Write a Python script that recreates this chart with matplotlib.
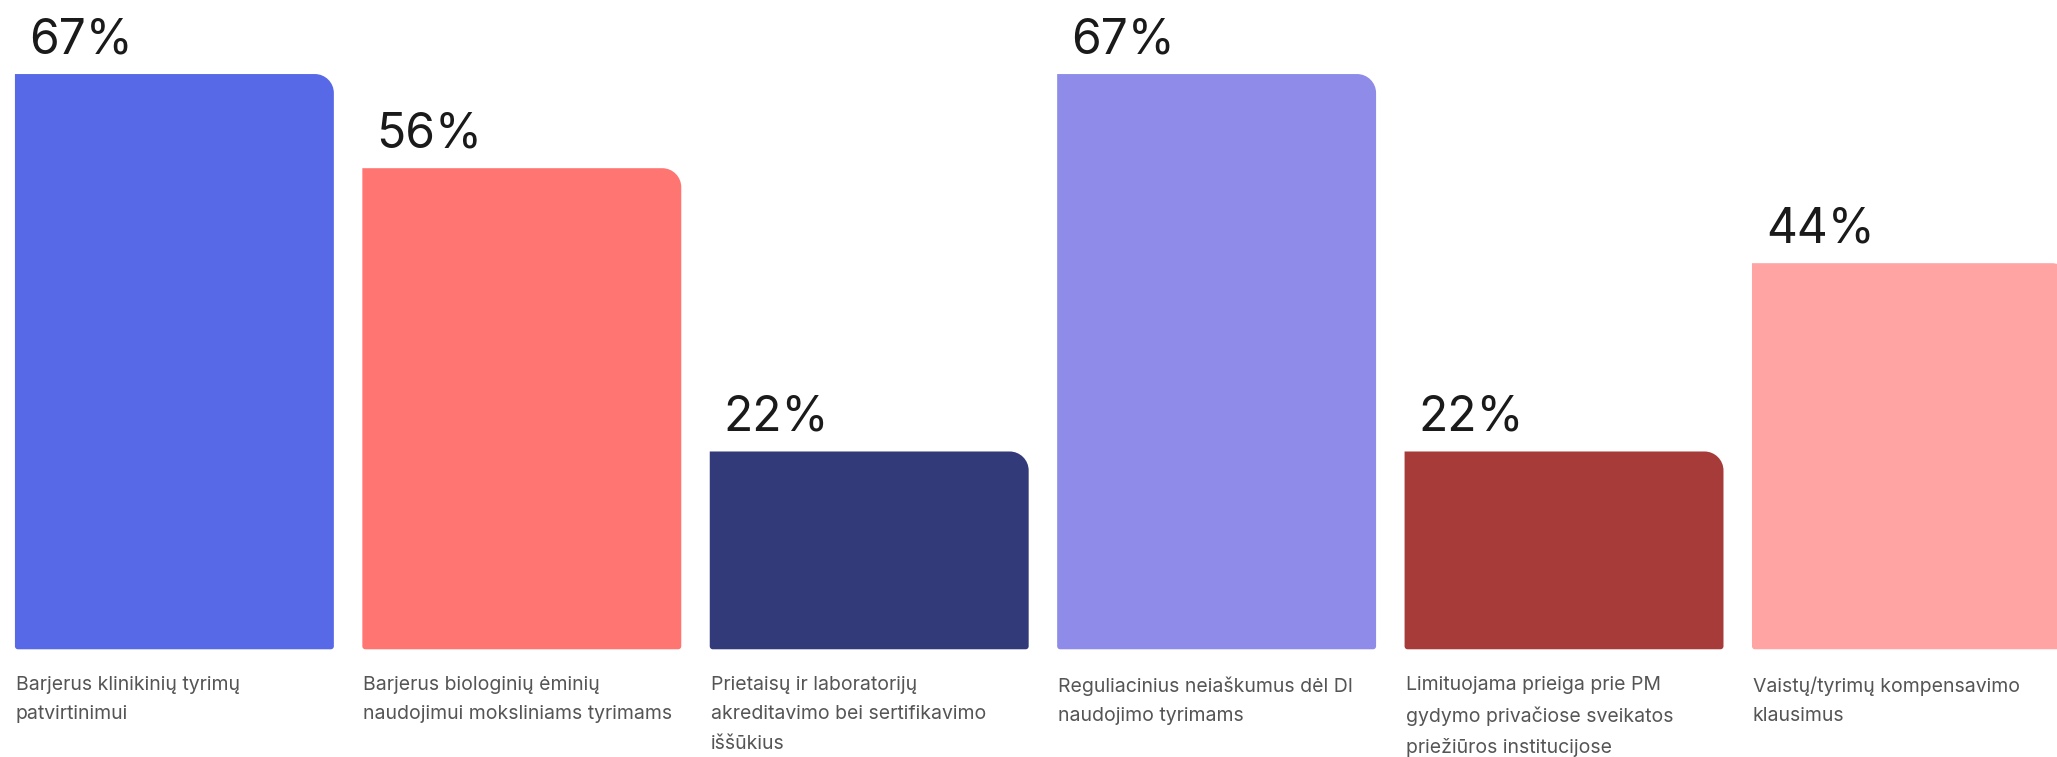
import numpy as np
import matplotlib
matplotlib.use("Agg")
import matplotlib.pyplot as plt
from matplotlib.path import Path
from matplotlib.patches import PathPatch
from matplotlib.transforms import offset_copy

plt.rcParams['font.family'] = ['Inter', 'DejaVu Sans']

# data
labels = [
    "Barjerus klinikinių tyrimų\npatvirtinimui",
    "Barjerus biologinių ėminių\nnaudojimui moksliniams tyrimams",
    "Prietaisų ir laboratorijų\nakreditavimo bei sertifikavimo\niššūkius",
    "Reguliacinius neiaškumus dėl DI\nnaudojimo tyrimams",
    "Limituojama prieiga prie PM\ngydymo privačiose sveikatos\npriežiūros institucijose",
    "Vaistų/tyrimų kompensavimo\nklausimus",
]
values = [66.7, 55.6, 22.2, 66.7, 22.2, 44.4]
colors = ["#5769E6", "#FF7571", "#323A7A", "#8E8CE8", "#A63B3A", "#FFA3A3"]

W, H, DPI = 2057, 757, 100
fig = plt.figure(figsize=(W / DPI, H / DPI), dpi=DPI)
ax = fig.add_axes([0, 0, 1, 1])
ax.set_xlim(-0.502, 5.419)
ax.set_ylim(-13.82, 75.43)
ax.axis("off")

bar_w = 0.918
base = -1.12

# pixels per data unit
p0 = ax.transData.transform((0, 0))
p1 = ax.transData.transform((1, 1))
sx, sy = p1[0] - p0[0], p1[1] - p0[1]

def bar_path(x0, y0, x1, y1, r_top=19, r_bot=3):
    k = 0.5523
    tx, ty = r_top / sx, r_top / sy
    bx, by = r_bot / sx, r_bot / sy
    verts = [
        (x0 + bx, y0),
        (x1 - bx, y0),
        (x1 - bx + k * bx, y0), (x1, y0 + by - k * by), (x1, y0 + by),
        (x1, y1 - ty),
        (x1, y1 - ty + k * ty), (x1 - tx + k * tx, y1), (x1 - tx, y1),
        (x0, y1),
        (x0, y0 + by),
        (x0, y0 + by - k * by), (x0 + bx - k * bx, y0), (x0 + bx, y0),
        (x0 + bx, y0),
    ]
    codes = [Path.MOVETO, Path.LINETO,
             Path.CURVE4, Path.CURVE4, Path.CURVE4,
             Path.LINETO,
             Path.CURVE4, Path.CURVE4, Path.CURVE4,
             Path.LINETO, Path.LINETO,
             Path.CURVE4, Path.CURVE4, Path.CURVE4,
             Path.CLOSEPOLY]
    return Path(verts, codes)

for i, (v, c, lab) in enumerate(zip(values, colors, labels)):
    x0 = i - bar_w / 2
    x1 = i + bar_w / 2
    ax.add_patch(PathPatch(bar_path(x0, base, x1, v), facecolor=c, edgecolor="none"))
    tr = offset_copy(ax.transData, fig=fig, x=14, y=21, units="dots")
    ax.text(x0, v, f"{v:.0f}%", transform=tr, fontsize=34.5, color="#1a1a1a",
            ha="left", va="baseline")
    tr2 = offset_copy(ax.transData, fig=fig, x=1, y=-27, units="dots")
    ax.text(x0, base, lab, transform=tr2, fontsize=14, color="#555555",
            ha="left", va="top", linespacing=1.8)

fig.savefig("out.png", dpi=DPI)
